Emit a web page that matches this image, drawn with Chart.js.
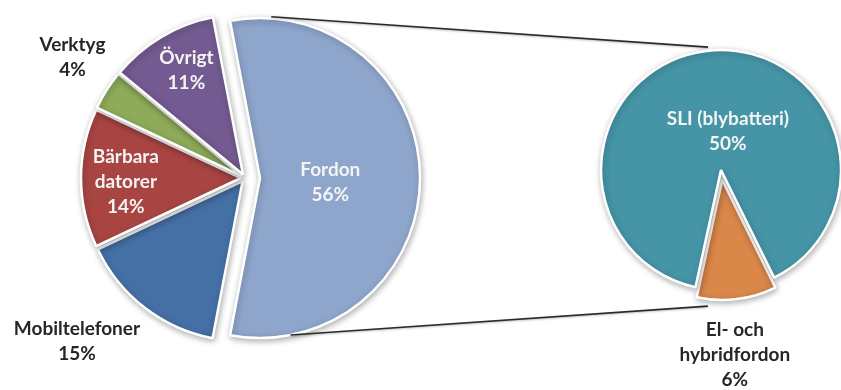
<!DOCTYPE html>
<html lang="sv">
<head>
<meta charset="utf-8">
<title>Batterier per användning</title>
<script src="https://cdn.jsdelivr.net/npm/chart.js@4"></script>
<style>
  html, body { margin: 0; padding: 0; background: #fff; }
  #wrap { position: relative; width: 841px; height: 390px; }
  #wrap canvas { position: absolute; left: 0; top: 0; }
</style>
</head>
<body>
<div id="wrap">
  <canvas id="mainPie" width="841" height="390"></canvas>
  <canvas id="subPie" width="841" height="390"></canvas>
</div>
<script>
// huvudcirkel: användningsområden (% av total)
const mainLabels = [["Fordon"], ["Mobiltelefoner"], ["Bärbara", "datorer"], ["Verktyg"], ["Övrigt"]];
const mainValues = [56, 15, 14, 4, 11];
const mainColors = ["#8ea6cc", "#4570a6", "#a84543", "#8dab58", "#735a91"];

// delcirkel: fordonsdelen uppdelad (% av total)
const subLabels = [["El- och", "hybridfordon"], ["SLI (blybatteri)"]];
const subValues = [6, 50];
const subColors = ["#da874a", "#4595a7"];

// utdragning av sektorerna i px
const mainExplode = [15, 4, 4, 4, 4];
const subExplode = [10, 0];

// etikettplacering: andel av radien och vinkeljustering (grader)
const mainLabelPos = [
  { r: 0.44, da: 3, inside: true },
  { r: 1.44, da: 8, inside: false },
  { r: 0.72, da: -2, inside: true },
  { r: 1.29, da: 2.5, inside: false },
  { r: 0.74, da: 2, inside: true }
];
const subLabelPos = [
  { r: 1.46, da: 2.7, inside: false },
  { r: 0.33, da: 17, inside: true }
];

const FONT = "bold 19px Lato, 'Open Sans', sans-serif";
const LINE_H = 25;

const sum = a => a.reduce((s, v) => s + v, 0);
const rad = deg => deg * Math.PI / 180;

// Fordon pekar åt höger, resten följer medurs
const mainRotation = 90 - (mainValues[0] / sum(mainValues)) * 180;
// elbilssektorn pekar nästan rakt nedåt
const subRotation = 83 + 90 - (subValues[0] / sum(subValues)) * 180;

// ritar sektorerna själv, utdragna längs mittvinkeln och med mjuk skugga
function explodedArcs(explode) {
  return {
    id: "explodedArcs",
    beforeDatasetDraw(chart, args) {
      const ctx = chart.ctx;
      args.meta.data.forEach((arc, i) => {
        const mid = (arc.startAngle + arc.endAngle) / 2;
        const d = explode[i] || 0;
        ctx.save();
        ctx.shadowColor = "rgba(0,0,0,0.3)";
        ctx.shadowBlur = 6;
        ctx.shadowOffsetX = 1;
        ctx.shadowOffsetY = 2;
        ctx.translate(Math.cos(mid) * d, Math.sin(mid) * d);
        arc.draw(ctx);
        ctx.restore();
      });
      return false;
    }
  };
}

// etiketter: namn + procent (värdena är redan andelar av totalen)
function pieLabels(labels, values, layout, explode) {
  return {
    id: "pieLabels",
    afterDatasetsDraw(chart) {
      const ctx = chart.ctx;
      const meta = chart.getDatasetMeta(0);
      ctx.save();
      ctx.font = FONT;
      ctx.textAlign = "center";
      ctx.textBaseline = "middle";
      meta.data.forEach((arc, i) => {
        const lay = layout[i];
        const mid = (arc.startAngle + arc.endAngle) / 2 + rad(lay.da);
        const d = (explode[i] || 0) + lay.r * arc.outerRadius;
        const cx = arc.x + Math.cos(mid) * d;
        const cy = arc.y + Math.sin(mid) * d;
        const lines = labels[i].concat([values[i] + "%"]);
        ctx.fillStyle = lay.inside ? "#f4f4f4" : "#262626";
        const top = cy - (lines.length - 1) * LINE_H / 2;
        lines.forEach((t, k) => ctx.fillText(t, cx, top + k * LINE_H));
      });
      ctx.restore();
    }
  };
}

const mainChart = new Chart(document.getElementById("mainPie"), {
  type: "pie",
  data: {
    labels: mainLabels.map(l => l.join(" ")),
    datasets: [{
      data: mainValues,
      backgroundColor: mainColors,
      borderColor: "#ffffff",
      borderWidth: 2.5
    }]
  },
  options: {
    responsive: false,
    animation: false,
    rotation: mainRotation,
    radius: 160,
    layout: { padding: { left: 0, right: 351, top: 0, bottom: 34 } },
    plugins: { legend: { display: false }, tooltip: { enabled: false } },
    events: []
  },
  plugins: [explodedArcs(mainExplode), pieLabels(mainLabels, mainValues, mainLabelPos, mainExplode)]
});

// förbindelselinjer mellan Fordon-sektorn och delcirkeln
const connectorPlugin = {
  id: "connectors",
  beforeDatasetsDraw(chart) {
    const a = mainChart.getDatasetMeta(0).data[0];
    const b = chart.getDatasetMeta(0).data[0];
    const aMid = (a.startAngle + a.endAngle) / 2;
    const ax = a.x + Math.cos(aMid) * mainExplode[0];
    const ay = a.y + Math.sin(aMid) * mainExplode[0];
    const pt = (x, y, r, deg) => [x + Math.cos(rad(deg)) * r, y + Math.sin(rad(deg)) * r];
    const segs = [
      [pt(ax, ay, a.outerRadius * 1.01, -86), pt(b.x, b.y, b.outerRadius * 1.03, -96)],
      [pt(ax, ay, a.outerRadius * 1.0, 79), pt(b.x, b.y, b.outerRadius * 1.14, 95.5)]
    ];
    const ctx = chart.ctx;
    ctx.save();
    ctx.strokeStyle = "#2b2b2b";
    ctx.lineWidth = 1.6;
    ctx.shadowColor = "rgba(0,0,0,0.25)";
    ctx.shadowBlur = 2;
    ctx.shadowOffsetY = 1;
    segs.forEach(([p, q]) => {
      ctx.beginPath();
      ctx.moveTo(p[0], p[1]);
      ctx.lineTo(q[0], q[1]);
      ctx.stroke();
    });
    ctx.restore();
  }
};

new Chart(document.getElementById("subPie"), {
  type: "pie",
  data: {
    labels: subLabels.map(l => l.join(" ")),
    datasets: [{
      data: subValues,
      backgroundColor: subColors,
      borderColor: "#ffffff",
      borderWidth: 2.5
    }]
  },
  options: {
    responsive: false,
    animation: false,
    rotation: subRotation,
    radius: 120,
    layout: { padding: { left: 601, right: 0, top: 0, bottom: 50 } },
    plugins: { legend: { display: false }, tooltip: { enabled: false } },
    events: []
  },
  plugins: [connectorPlugin, explodedArcs(subExplode), pieLabels(subLabels, subValues, subLabelPos, subExplode)]
});
</script>
</body>
</html>
